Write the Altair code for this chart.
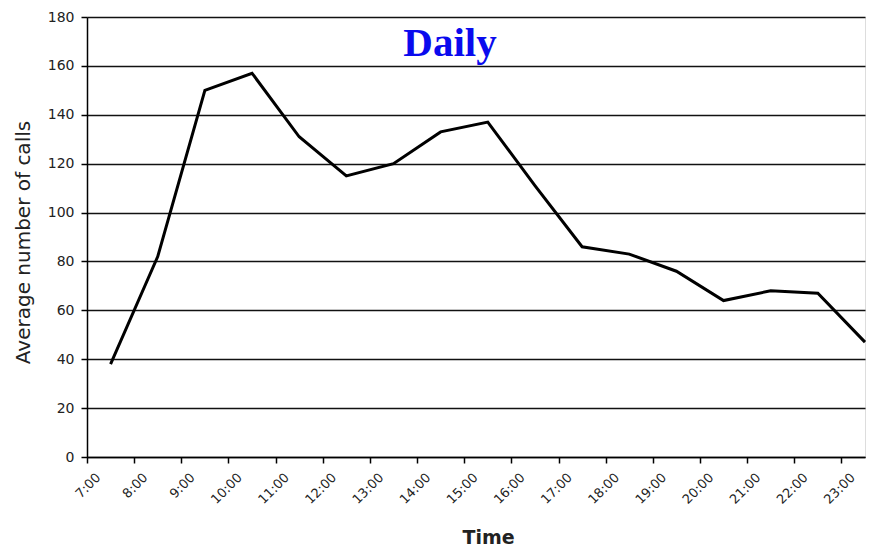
import altair as alt
import pandas as pd

hours = [7.5, 8.5, 9.5, 10.5, 11.5, 12.5, 13.5, 14.5, 15.5, 16.5, 17.5, 18.5, 19.5, 20.5, 21.5, 22.5, 23.5]
calls = [38, 82, 150, 157, 131, 115, 120, 133, 137, 111, 86, 83, 76, 64, 68, 67, 47]
tick_hours = list(range(7, 24))
y_ticks = list(range(0, 181, 20))

df = pd.DataFrame({"hour": hours, "calls": calls})

label_expr = "datum.value + ':00'"

base = alt.Chart(df)

line = base.mark_line(color="black", strokeWidth=3).encode(
    x=alt.X("hour:Q",
            scale=alt.Scale(domain=[7, 23.5], nice=False, zero=False),
            axis=alt.Axis(values=tick_hours, labelExpr=label_expr, labelAngle=-45,
                          labelAlign="right", labelBaseline="middle", labelPadding=12,
                          labelOffset=11, labelFontSize=13, labelColor="#222",
                          labelFont="DejaVu Sans", grid=False, tickSize=6,
                          tickColor="black", domainColor="black", domainWidth=1.5,
                          tickWidth=1.5, title="Time", titleFont="DejaVu Sans",
                          titleFontSize=19, titleFontWeight="bold", titleColor="#222",
                          titleX=401, titleY=80, titleBaseline="middle")),
    y=alt.Y("calls:Q",
            scale=alt.Scale(domain=[0, 180], nice=False),
            axis=alt.Axis(values=y_ticks, labelFontSize=14, labelColor="#222",
                          labelFont="DejaVu Sans", labelPadding=7,
                          grid=True, gridColor="#111", gridWidth=1.5,
                          tickSize=6, tickColor="black", tickWidth=1.5,
                          domainColor="black", domainWidth=1.5,
                          title="Average number of calls", titleFont="DejaVu Sans",
                          titleFontSize=20, titleFontWeight="normal", titleColor="#222",
                          titleX=-64, titleY=225, titleBaseline="middle")),
)

title_text = alt.Chart(pd.DataFrame({"t": ["Daily"]})).mark_text(
    font="Liberation Serif", fontSize=41, fontWeight="bold", color="#0a0aee",
    align="center", baseline="middle"
).encode(text="t:N", x=alt.value(363), y=alt.value(27))

chart = alt.layer(line, title_text).properties(
    width=778, height=440,
    autosize=alt.AutoSizeParams(type="none"),
    padding={"left": 79, "top": 9, "right": 8, "bottom": 91},
).configure_view(stroke=None).configure(background="white")

chart.save("out.html", embed_options={"renderer": "svg", "actions": False})
